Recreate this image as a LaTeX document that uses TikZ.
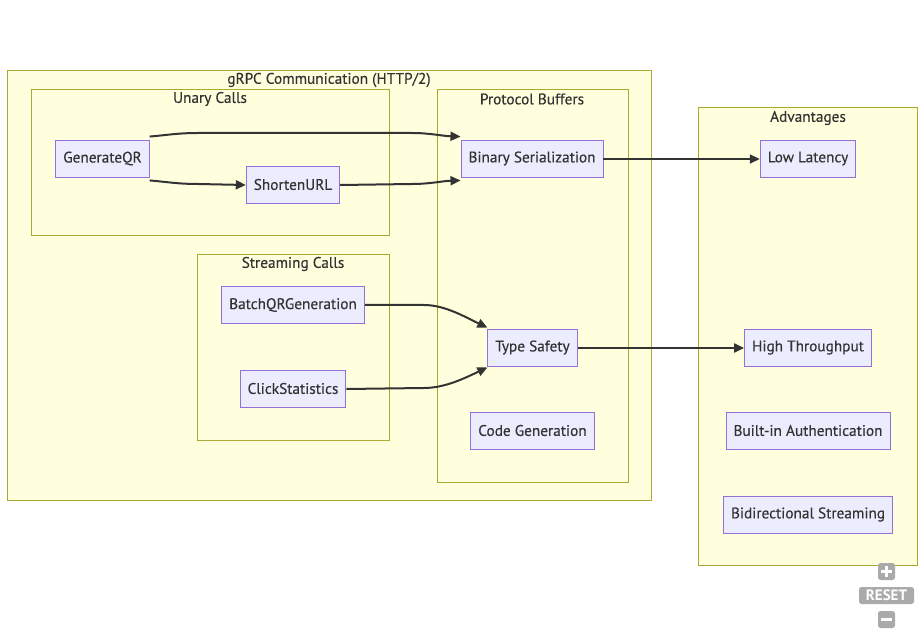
\documentclass[tikz,border=0pt]{standalone}
\usepackage{fontspec}
\setmainfont{PT Sans}
\newfontfamily\labelfont[FakeBold=0.3]{PT Sans}
\usetikzlibrary{arrows.meta,calc}
\definecolor{clusterfill}{HTML}{FFFFDE}
\definecolor{clusterline}{HTML}{AAAA33}
\definecolor{nodefill}{HTML}{ECECFF}
\definecolor{nodeline}{HTML}{9370DB}
\definecolor{ink}{HTML}{333333}
\definecolor{ctrl}{HTML}{AAAAAA}
\begin{document}
\begin{tikzpicture}[x=1pt,y=-1pt,
  cluster/.style={draw=clusterline,fill=clusterfill,line width=0.9pt},
  ctitle/.style={text=ink,font=\labelfont\fontsize{15.3}{17}\selectfont,inner sep=0pt},
  box/.style={draw=nodeline,fill=nodefill,line width=0.9pt,text=ink,
    font=\labelfont\fontsize{15.3}{17}\selectfont,minimum height=37,inner xsep=7.5,inner ysep=0},
  flow/.style={draw=ink,line width=2pt,-{Triangle[length=10pt,width=9pt]}},
  ctrlbtn/.style={fill=ctrl,rounded corners=2.5pt,text=white,inner sep=0pt,
    font=\bfseries\fontsize{15}{15}\selectfont}]
\useasboundingbox (0,0) rectangle (924,636);
\fill[white] (0,0) rectangle (924,636);

% subgraphs
\draw[cluster] (7,70) rectangle (651,500);
\node[ctitle] (tgrpc) at (329,80) {gRPC Communication (HTTP/2)};
\draw[cluster] (31,89) rectangle (389,235);
\node[ctitle] (tunary) at (210,99) {Unary Calls};
\draw[cluster] (437,89) rectangle (628,482);
\node[ctitle] (tproto) at (532,99) {Protocol Buffers};
\draw[cluster] (197,254) rectangle (389,440);
\node[ctitle] (tstream) at (293,264) {Streaming Calls};
\draw[cluster] (698,107) rectangle (917,565);
\node[ctitle] (tadv) at (808,118) {Advantages};

% nodes
\node[box] (gen) at (102.5,158.5) {GenerateQR};
\node[box] (short) at (293,184.5) {ShortenURL};
\node[box] (bin) at (532,158.5) {Binary Serialization};
\node[box] (low) at (808,158.5) {Low Latency};
\node[box] (batch) at (293,305) {BatchQRGeneration};
\node[box] (click) at (293,388.5) {ClickStatistics};
\node[box] (type) at (532.5,347.5) {Type Safety};
\node[box] (code) at (532.5,430.5) {Code Generation};
\node[box] (high) at (808,347.5) {High Throughput};
\node[box] (auth) at (808,430.5) {Built-in Authentication};
\node[box] (bidi) at (808,514.5) {Bidirectional Streaming};

% connectors
\draw[flow] ([yshift=3]gen.north east) .. controls (168,135) and (178,133) .. (198,133)
  -- (412,133) .. controls (430,133) and (442,136) .. ([yshift=3]bin.north west);
\draw[flow] ([yshift=-3]gen.south east) .. controls (168,182) and (178,184) .. (198,184)
  -- ([yshift=-0.5]short.west);
\draw[flow] ([yshift=-0.5]short.east) -- (412,184) .. controls (430,184) and (442,181) .. ([yshift=-3]bin.south west);
\draw[flow] (batch.east) -- (424,305) .. controls (445,305) and (465,317) .. ([yshift=1]type.north west);
\draw[flow] ([yshift=-0.5]click.east) -- (424,388) .. controls (445,388) and (465,378) .. ([yshift=-1]type.south west);
\draw[flow] ([yshift=-0.5]bin.east) -- ([yshift=-0.5]low.west);
\draw[flow] ([yshift=-0.5]type.east) -- ([yshift=-0.5]high.west);

% zoom controls
\node[ctrlbtn,minimum width=17,minimum height=17] (zin) at (886.5,571.5) {};
\fill[white] ($(zin.center)+(-5.5,-1.5)$) rectangle ($(zin.center)+(5.5,1.5)$);
\fill[white] ($(zin.center)+(-1.5,-5.5)$) rectangle ($(zin.center)+(1.5,5.5)$);
\node[ctrlbtn,minimum width=55,minimum height=17] (zreset) at (886.5,595.5) {RESET};
\node[ctrlbtn,minimum width=17,minimum height=17] (zout) at (886.5,619.5) {};
\fill[white] ($(zout.center)+(-5.5,-1.5)$) rectangle ($(zout.center)+(5.5,1.5)$);
\end{tikzpicture}
\end{document}
